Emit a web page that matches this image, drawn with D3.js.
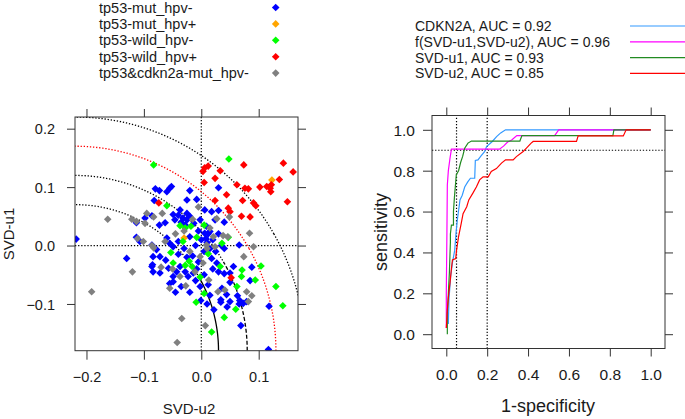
<!DOCTYPE html>
<html><head><meta charset="utf-8">
<script src="https://cdn.jsdelivr.net/npm/d3@7"></script>
<style>
body{margin:0;background:#fff}
svg{display:block}
text{font-family:"Liberation Sans",Arial,sans-serif;fill:#1a1a1a}
</style>
</head><body>
<svg id="chart" width="685" height="419"></svg>
<script>
// ---------------- data: scatter groups ([SVD-u2, SVD-u1]) ----------------
const groupNames = ["tp53-mut_hpv-","tp53-mut_hpv+","tp53-wild_hpv-","tp53-wild_hpv+","tp53&cdkn2a-mut_hpv-"];
const groupColors = ["#0000FF","#FFA500","#00FF00","#FF0000","#808080"];

const mutHpvNeg = [
 [-0.080,0.097],[-0.073,0.094],[-0.055,0.098],[-0.060,0.092],[-0.020,0.094],[-0.082,0.077],[-0.025,0.078],[-0.008,0.079],[0.030,0.099],[-0.052,0.101],
 [0.006,0.061],[0.018,0.058],[0.030,0.060],[-0.037,0.061],[-0.049,0.053],[-0.025,0.055],[-0.113,0.039],[-0.098,0.047],[-0.086,0.051],[-0.073,0.035],
 [-0.063,0.039],[-0.046,0.044],[-0.032,0.047],[-0.025,0.044],[-0.028,0.035],[-0.013,0.038],[-0.002,0.044],[0.009,0.033],[0.015,0.024],[0.006,0.021],
 [-0.040,0.052],[-0.035,0.040],[-0.020,0.050],[0.040,0.040],[0.024,0.044],
 [-0.113,0.014],[-0.107,0.007],[-0.130,-0.022],[-0.086,0.001],[-0.078,-0.007],[-0.084,-0.019],[-0.072,-0.019],[-0.060,0.013],[-0.055,0.004],[-0.049,-0.002],
 [-0.040,0.007],[-0.218,0.011],[0.066,0.001],[0.000,0.010],[0.010,0.005],[0.015,-0.005],[0.005,-0.010],[0.020,0.010],[-0.010,0.000],[0.012,0.020],
 [-0.005,0.025],[0.025,-0.010],[-0.020,0.015],[0.030,0.020],[0.008,0.012],[-0.015,-0.018],[0.018,-0.022],[-0.030,-0.005],[-0.025,-0.020],[-0.040,-0.015],
 [0.040,-0.005],[-0.005,-0.028],
 [-0.086,-0.036],[-0.084,-0.045],[-0.072,-0.047],[-0.057,-0.039],[-0.049,-0.053],[-0.043,-0.045],[-0.037,-0.036],[-0.028,-0.045],[-0.023,-0.053],[-0.014,-0.047],
 [0.056,-0.036],[0.050,-0.047],[0.088,-0.037],[0.050,-0.063],[0.067,-0.094],[0.079,-0.096],[0.034,-0.093],[0.030,-0.045],[0.040,-0.048],[0.027,-0.030],
 [-0.001,-0.094],[0.034,-0.097],[0.050,-0.096],[0.063,-0.086],[0.066,-0.100],[0.073,-0.099],[0.069,-0.137],[0.118,-0.104],[0.117,-0.178],[-0.049,-0.062],
 [-0.055,-0.065],[-0.002,-0.070],[0.012,-0.067],[0.036,-0.073],[0.044,-0.084],[0.015,-0.085],[-0.010,-0.060],[0.005,-0.050],[0.020,-0.040],[-0.035,-0.070],
 [-0.045,-0.080],[-0.020,-0.080],[0.010,-0.100],[0.022,-0.110],[0.045,-0.105],[0.085,-0.060],[-0.085,-0.033],[-0.062,-0.025],[0.035,0.000],[-0.008,-0.040]
];
const mutHpvPos = [[0.123,0.112],[-0.030,0.013]];
const wildHpvNeg = [
 [-0.083,0.138],[0.048,0.148],[-0.060,0.068],[-0.037,0.034],[-0.028,0.030],[-0.018,0.033],[-0.032,0.007],[-0.008,0.014],[0.005,0.035],[0.036,0.004],
 [0.047,0.014],[-0.053,-0.012],[-0.049,-0.030],[-0.028,-0.034],[-0.016,-0.036],[0.012,-0.014],[0.033,-0.036],[0.071,-0.042],[0.104,-0.035],[0.094,-0.059],
 [0.062,-0.070],[0.130,-0.070],[0.142,-0.103],[-0.009,-0.097],[0.005,-0.082],[0.040,-0.123],[0.060,-0.109],[0.018,-0.148],[-0.002,-0.054],[0.070,-0.053],
 [-0.021,-0.027]
];
const wildHpvPos = [
 [0.006,0.133],[0.012,0.136],[0.003,0.127],[0.033,0.128],[0.005,0.108],[0.024,0.115],[0.074,0.138],[0.062,0.104],[0.076,0.098],[0.082,0.097],
 [0.102,0.100],[0.114,0.101],[0.121,0.092],[0.122,0.104],[0.143,0.141],[0.160,0.126],[0.136,0.113],[0.150,0.075],[0.024,0.077],[0.044,0.087],
 [0.047,0.064],[0.050,0.058],[0.072,0.077],[0.070,0.050],[0.085,0.049],[0.091,0.073],[0.095,0.068],[-0.074,0.073],[0.052,-0.055],[0.120,0.098]
];
const cdkn2aMutHpvNeg = [
 [-0.163,0.045],[-0.121,0.045],[-0.113,0.041],[-0.095,0.055],[-0.083,0.049],[-0.098,0.038],[-0.068,0.055],[-0.005,0.066],[0.027,0.046],[0.049,0.049],
 [0.084,0.021],[0.091,-0.002],[0.074,-0.019],[-0.111,0.012],[-0.101,0.007],[-0.086,0.000],[-0.083,-0.004],[-0.063,0.007],[-0.120,-0.045],[-0.191,-0.079],
 [-0.070,-0.037],[-0.055,-0.073],[-0.034,-0.125],[-0.042,-0.166],[-0.027,-0.069],[-0.037,-0.053],[-0.002,-0.019],[0.003,-0.030],[-0.011,-0.045],[0.009,0.001],
 [0.021,0.015],[0.038,0.017],[0.046,0.015],[0.024,-0.002],[0.013,-0.059],[0.029,-0.079],[0.041,-0.076],[0.079,-0.079],[0.088,-0.086],[0.082,-0.096],
 [0.007,-0.137],[-0.045,0.020],[-0.030,0.025],[-0.015,0.045],[0.010,-0.005],[-0.020,-0.010],[0.015,0.030],[-0.050,-0.040]
];
const groupData = [mutHpvNeg, mutHpvPos, wildHpvNeg, wildHpvPos, cdkn2aMutHpvNeg];

// circle contours (centre and radii in SVD units)
const arcCenter = [-0.22, -0.18];
const arcRadii = [0.25, 0.30, 0.35, 0.40];
const arcColors = ["#000","#000","#FF0000","#000"];

const xTicksL = [-0.2,-0.1,0.0,0.1];
const yTicksL = [-0.1,0.0,0.1,0.2];

// ---------------- data: ROC curves ([1-specificity, sensitivity]) ----------------
const rocNames = ["CDKN2A, AUC = 0.92","f(SVD-u1,SVD-u2), AUC = 0.96","SVD-u1, AUC = 0.93","SVD-u2, AUC = 0.85"];
const rocColors = ["#3399FF","#FF00FF","#228B22","#FF0000"];
const rocCdkn2a = [[0.010,0.05],[0.013,0.17],[0.021,0.28],[0.030,0.35],[0.041,0.41],[0.048,0.50],[0.054,0.56],[0.067,0.657],[0.078,0.68],[0.090,0.72],
 [0.105,0.745],[0.118,0.763],[0.139,0.763],[0.142,0.85],[0.155,0.853],[0.168,0.87],[0.188,0.894],[0.197,0.918],[0.225,0.943],[0.246,0.967],[0.266,0.985],[0.29,1.0],[1.0,1.0]];
const rocF = [[0.0,0.03],[0.0,0.2],[0.003,0.5],[0.005,0.73],[0.010,0.80],[0.018,0.86],[0.025,0.905],[0.26,0.905],[0.28,0.92],[0.30,0.94],[0.32,0.95],[0.345,0.972],[0.53,0.972],[0.55,1.0],[1.0,1.0]];
const rocU1 = [[0.005,0.0],[0.005,0.1],[0.010,0.2],[0.015,0.3],[0.020,0.45],[0.020,0.49],[0.025,0.534],[0.035,0.534],[0.035,0.6],[0.040,0.673],[0.049,0.78],[0.060,0.80],[0.070,0.84],[0.080,0.87],
 [0.090,0.91],[0.106,0.935],[0.123,0.945],[0.36,0.945],[0.37,0.972],[0.815,0.972],[0.82,1.0],[1.0,1.0]];
const rocU2 = [[0.0,0.03],[0.003,0.08],[0.005,0.12],[0.012,0.2],[0.018,0.25],[0.025,0.32],[0.030,0.363],[0.046,0.37],[0.050,0.41],[0.060,0.477],[0.073,0.542],[0.082,0.59],
 [0.100,0.624],[0.110,0.657],[0.130,0.69],[0.147,0.72],[0.163,0.755],[0.180,0.77],[0.205,0.77],[0.220,0.796],[0.245,0.81],[0.270,0.837],[0.290,0.853],[0.327,0.853],
 [0.343,0.869],[0.376,0.894],[0.392,0.91],[0.415,0.935],[0.425,0.943],[0.637,0.943],[0.645,0.97],[0.866,0.97],[0.88,1.0],[1.0,1.0]];
const rocData = [rocCdkn2a, rocF, rocU1, rocU2];
const rocRefX = [0.05, 0.2];
const rocRefY = [0.9];
const ticksR = [0.0,0.2,0.4,0.6,0.8,1.0];

// ---------------- drawing ----------------
const svg = d3.select("#chart");
const AX = "#333";

function diamond(sel, r){
  return sel.attr("d", `M0,${-r}L${r},0L0,${r}L${-r},0Z`);
}

// ====== left scatter ======
const L = {x0:75, x1:298, y0:117, y1:350.7};
const xL = d3.scaleLinear().domain([-0.22, (L.x1-201.3)/574]).range([L.x0, L.x1]);
const yL = d3.scaleLinear().domain([-0.18, 0.22]).range([L.y1, L.y0]);

svg.append("clipPath").attr("id","clipL").append("rect")
  .attr("x",L.x0).attr("y",L.y0).attr("width",L.x1-L.x0).attr("height",L.y1-L.y0);

const gL = svg.append("g");
const plotL = gL.append("g").attr("clip-path","url(#clipL)");

// reference lines
plotL.append("line").attr("x1",xL(0)).attr("x2",xL(0)).attr("y1",L.y1).attr("y2",L.y0)
  .attr("stroke","#000").attr("stroke-width",1.2).attr("stroke-dasharray","1.3,1.8");
plotL.append("line").attr("x1",L.x0).attr("x2",L.x1).attr("y1",yL(0)).attr("y2",yL(0))
  .attr("stroke","#000").attr("stroke-width",1.2).attr("stroke-dasharray","1.3,1.8");

// arcs
const arcLine = d3.line().x(d=>xL(d[0])).y(d=>yL(d[1]));
arcRadii.forEach((r,i)=>{
  const pts = d3.range(0, 90.5, 0.5).map(a=>{
    const t = a*Math.PI/180;
    return [arcCenter[0]+r*Math.cos(t), arcCenter[1]+r*Math.sin(t), a];
  });
  const lower = pts.filter(p=>p[2]<=30), upper = pts.filter(p=>p[2]>=30);
  let lowDash = "1.3,1.8";
  if(i===0) lowDash = null;
  if(i===1) lowDash = "4,2";
  plotL.append("path").attr("d",arcLine(upper)).attr("fill","none")
    .attr("stroke",arcColors[i]).attr("stroke-width",1.3).attr("stroke-dasharray","1.3,1.8");
  plotL.append("path").attr("d",arcLine(lower)).attr("fill","none")
    .attr("stroke",arcColors[i]).attr("stroke-width",1.3).attr("stroke-dasharray",lowDash);
});

// points
groupData.forEach((arr,gi)=>{
  plotL.append("g").selectAll("path").data(arr).join("path")
    .call(diamond, 3.8)
    .attr("transform",d=>`translate(${xL(d[0])},${yL(d[1])})`)
    .attr("fill",groupColors[gi]);
});

// frame
gL.append("rect").attr("x",L.x0).attr("y",L.y0).attr("width",L.x1-L.x0).attr("height",L.y1-L.y0)
  .attr("fill","none").attr("stroke",AX).attr("stroke-width",1);

function styleAxis(g, fs){
  g.select(".domain").remove();
  g.selectAll(".tick line").attr("stroke",AX).attr("stroke-width",1);
  g.selectAll(".tick text").attr("font-size",fs).attr("fill","#1a1a1a")
    .attr("font-family","'Liberation Sans',Arial,sans-serif");
}

const axBL = gL.append("g").attr("transform",`translate(0,${L.y1})`)
  .call(d3.axisBottom(xL).tickValues(xTicksL).tickSize(9).tickFormat(d3.format(".1f")));
styleAxis(axBL,14.5);
axBL.selectAll(".tick text").attr("y",26).attr("dy","0.35em");

const axTL = gL.append("g").attr("transform",`translate(0,${L.y0})`)
  .call(d3.axisTop(xL).tickValues(xTicksL).tickSize(8).tickFormat(""));
styleAxis(axTL,14.5);

const axLL = gL.append("g").attr("transform",`translate(${L.x0},0)`)
  .call(d3.axisLeft(yL).tickValues(yTicksL).tickSize(8).tickFormat(d3.format(".1f")));
styleAxis(axLL,14.5);
axLL.selectAll(".tick text").attr("x",-20).attr("dy","0.35em");

const axRL = gL.append("g").attr("transform",`translate(${L.x1},0)`)
  .call(d3.axisRight(yL).tickValues(yTicksL).tickSize(8).tickFormat(""));
styleAxis(axRL,14.5);

gL.append("text").attr("x",189).attr("y",408).attr("text-anchor","middle")
  .attr("dominant-baseline","central").attr("font-size",15).text("SVD-u2");
gL.append("text").attr("transform","translate(8,234) rotate(-90)").attr("text-anchor","middle")
  .attr("dominant-baseline","central").attr("font-size",15).text("SVD-u1");

// legend left
const legL = svg.append("g");
groupNames.forEach((n,i)=>{
  const cy = 7.5 + i*16.4;
  legL.append("text").attr("x",99).attr("y",cy).attr("dominant-baseline","central")
    .attr("font-size",14.5).text(n);
  legL.append("path").call(diamond,3.8).attr("transform",`translate(275.7,${cy})`).attr("fill",groupColors[i]);
});

// ====== right ROC ======
const xR = d3.scaleLinear().domain([-0.07,1.07]).range([432,665]);
const yR = d3.scaleLinear().domain([-0.07,1.07]).range([348.5,115.5]);
const gR = svg.append("g");

svg.append("clipPath").attr("id","clipR").append("rect")
  .attr("x",432).attr("y",115.5).attr("width",233).attr("height",233);
const plotR = gR.append("g").attr("clip-path","url(#clipR)");

rocRefX.forEach(v=>{
  plotR.append("line").attr("x1",xR(v)).attr("x2",xR(v)).attr("y1",yR.range()[0]).attr("y2",yR.range()[1])
    .attr("stroke","#000").attr("stroke-width",1.2).attr("stroke-dasharray","1.3,1.8");
});
rocRefY.forEach(v=>{
  plotR.append("line").attr("x1",xR.range()[0]).attr("x2",xR.range()[1]).attr("y1",yR(v)).attr("y2",yR(v))
    .attr("stroke","#000").attr("stroke-width",1.2).attr("stroke-dasharray","1.3,1.8");
});

const rocLine = d3.line().x(d=>xR(d[0])).y(d=>yR(d[1]));
rocData.forEach((arr,i)=>{
  plotR.append("path").attr("d",rocLine(arr)).attr("fill","none")
    .attr("stroke",rocColors[i]).attr("stroke-width",1.2);
});

gR.append("rect").attr("x",432).attr("y",115.5).attr("width",233).attr("height",233)
  .attr("fill","none").attr("stroke",AX).attr("stroke-width",1);

const axBR = gR.append("g").attr("transform","translate(0,348.5)")
  .call(d3.axisBottom(xR).tickValues(ticksR).tickSize(8).tickFormat(d3.format(".1f")));
styleAxis(axBR,15.5);
axBR.selectAll(".tick text").attr("y",26).attr("dy","0.35em");
const axTR = gR.append("g").attr("transform","translate(0,115.5)")
  .call(d3.axisTop(xR).tickValues(ticksR).tickSize(8).tickFormat(""));
styleAxis(axTR,15.5);
const axLR = gR.append("g").attr("transform","translate(432,0)")
  .call(d3.axisLeft(yR).tickValues(ticksR).tickSize(9).tickFormat(d3.format(".1f")));
styleAxis(axLR,15.5);
axLR.selectAll(".tick text").attr("x",-17).attr("dy","0.35em");
const axRR = gR.append("g").attr("transform","translate(665,0)")
  .call(d3.axisRight(yR).tickValues(ticksR).tickSize(8).tickFormat(""));
styleAxis(axRR,15.5);

gR.append("text").attr("x",548).attr("y",406).attr("text-anchor","middle")
  .attr("dominant-baseline","central").attr("font-size",18).text("1-specificity");
gR.append("text").attr("transform","translate(381,232) rotate(-90)").attr("text-anchor","middle")
  .attr("dominant-baseline","central").attr("font-size",18).text("sensitivity");

// legend right
const legR = svg.append("g");
rocNames.forEach((n,i)=>{
  const cy = 26 + i*15.8;
  legR.append("text").attr("x",415).attr("y",cy).attr("dominant-baseline","central")
    .attr("font-size",14).text(n);
  legR.append("line").attr("x1",630).attr("x2",685).attr("y1",cy).attr("y2",cy)
    .attr("stroke",rocColors[i]).attr("stroke-width",1.2);
});
</script>
</body></html>
